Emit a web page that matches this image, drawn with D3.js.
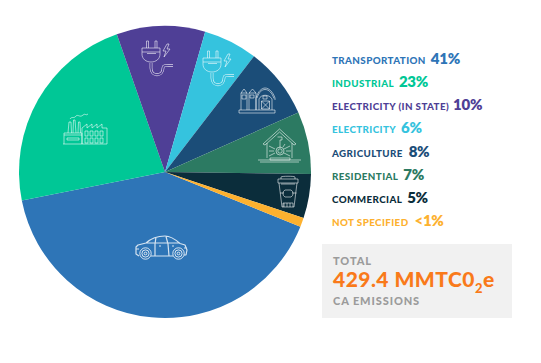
<!DOCTYPE html>
<html><head><meta charset="utf-8">
<style>html,body{margin:0;padding:0;background:#fff}svg{display:block}
text{font-family:Lato,"Open Sans",sans-serif}</style>
<script src="https://cdn.jsdelivr.net/npm/d3@7/dist/d3.min.js"></script></head>
<body><svg id="c" width="541" height="363"></svg>
<script>
const categories=["TRANSPORTATION","INDUSTRIAL","ELECTRICITY (IN STATE)","ELECTRICITY","AGRICULTURE","RESIDENTIAL","COMMERCIAL","NOT SPECIFIED"];
const values=[40.8,22.8,9.8,6.0,7.9,6.9,4.9,1.0];
const valueLabels=["41%","23%","10%","6%","8%","7%","5%","<1%"];
const colors=["#2e75b7","#00c796","#4f3f96","#35c3de","#1b4d78","#2c7a62","#0b2d3b","#fdb12f"];
const svg=d3.select("#c");
const cx=165,cy=172,R=146;
const startDeg=112;
const pie=d3.pie().sort(null).startAngle(startDeg*Math.PI/180).endAngle((startDeg+360)*Math.PI/180);
const arc=d3.arc().innerRadius(0).outerRadius(R);
svg.append("g").attr("transform",`translate(${cx},${cy})`).selectAll("path").data(pie(values)).join("path")
  .attr("d",arc).attr("fill",(d,i)=>colors[i]);

// line icons
const ic=svg.append("g").attr("fill","none").attr("stroke","#fff").attr("stroke-width",.7).attr("stroke-opacity",.8).attr("stroke-linejoin","round");
function plug(x,y,bg){
  const g=ic.append("g").attr("transform",`translate(${x},${y})`);
  const cable="M9 22V27C9 36 21 36 21 27C21 24 23 24.500 31 24.500";
  g.append("path").attr("d",cable).attr("stroke-width",2.8);
  g.append("path").attr("d",cable).attr("stroke",bg).attr("stroke-opacity",1).attr("stroke-width",1.6);
  g.append("path").attr("d","M4.500 7V0H6.500V7M13 7V0H15V7M0 7H18V13C18 18 14 21 9 21C4 21 0 18 0 13ZM0 11H18M5 12.500H14");
  g.append("path").attr("d","M25 3L21 10H24L22 16L28 8H25L27 3Z");
}
plug(142,41,colors[2]);plug(203,51,colors[3]);

// barn
ic.append("path").attr("transform","translate(239,88)").attr("d",
 "M0 25H36V22H0ZM2 22V5L5 1L8 5V22M2 5H8M3 7H7V11H3ZM10 22V5L13.500 1L17 5V22M10 5H17M11 7H15V10H11ZM17 22V10C19 3 23 0 26 0C30 0 34 4 36 10V12M18 10C20 4 23 1.500 26 1.500C30 1.500 33 5 35 10.500M20 22V11C22 6 30 6 33 11V22M22.500 13H30.500V21H22.500ZM22.500 13L30.500 21M30.500 13L22.500 21M24 8H28V11H24Z");

// house
ic.append("path").attr("transform","translate(258,129)").attr("d",
 "M5 15L21.500 0L38 15L36 16L21.500 3L7 16ZM9 14V29M34 14V29M0 31H43M2 33H41M12 31H32V29H12ZM19.500 8H24V11H22V19M18 22A4 4 0 1 0 26 22A4 4 0 1 0 18 22M19.800 22A2.200 2.200 0 1 0 24.200 22A2.200 2.200 0 1 0 19.800 22M11 17L17 20M11 22H16M11 27L17 24M32 17L26 20M33 22H28M32 27L26 24M27 15L25 18");

// bin
ic.append("path").attr("transform","translate(277,176)").attr("d",
 "M4 3V1C4 0 18 0 18 1V3M1 3H21V7H1ZM2 7L5 31H17L20 7M4 8H18M6 31V27H16V31M7 27V31M10 27V31M13 27V31M8 14H14A4 4 0 0 1 14 21H8A4 4 0 0 1 8 14ZM3 17H7M15 17H19.500");

// factory
ic.append("path").attr("transform","translate(63,113)").attr("d",
 "M0 31H44M1 31V20H19V31M1 22H19M4 25H16V27H4ZM5 20L6 9H8L8.500 20M10 20L10.500 7H12L13 20M15 20L15.500 9H17L17.500 20M7 6C9 3 11 6 13 3C15 1 17 5 20 2C22 0 23 3 25 1M19 31V15L24 11V15L29 11V15L34 11V15L39 11V15L44 15V31M22 18H25V23H22ZM27 18H30V23H27ZM32 18H35V23H32ZM37 18H40V23H37ZM22 25H25V30H22ZM27 25H30V30H27ZM32 25H35V30H32ZM37 25H40V30H37Z");

// car
ic.append("path").attr("transform","translate(135,236)").attr("stroke-width",1.2).attr("d",
 "M4 20L1 18V11L3 9L11 7C17 1.500 22 0 30 0C36 0 41 4 45 7.500L50 9L52 14L51 19H49M38 20H16M11 7H45M21 1L20 8V20M31 .5L33 8L34 20M24 10H26M37 10H39M1 13H4M49 12H52");
[[145.500,253.500],[178.500,253.500]].forEach(([x,y])=>{
  [5.700,3.600,1.400].forEach(r=>ic.append("circle").attr("cx",x).attr("cy",y).attr("r",r).attr("stroke-width",1));
});

// legend
const rowY=d3.scalePoint().domain(categories).range([64,226]);
const gaps=[5,5,4,5,6,5,5,6];
const lg=svg.append("g");
categories.forEach((c,i)=>{
  const t=lg.append("text").attr("x",332).attr("y",rowY(c)).attr("fill",colors[i]).attr("font-size",9.800).attr("font-weight",900).attr("letter-spacing",.4).text(c);
  const w=t.node().getComputedTextLength();
  lg.append("text").attr("x",332+w+gaps[i]).attr("y",rowY(c)).attr("fill",colors[i]).attr("font-family","Inter").attr("font-size",15).attr("font-weight",800).attr("letter-spacing",-.3).text(valueLabels[i]);
});

// total box
svg.append("rect").attr("x",322).attr("y",244).attr("width",190).attr("height",74).attr("fill","#f1f1f1");
const gray="#9b9b9b";
svg.append("text").attr("x",333).attr("y",265).attr("fill",gray).attr("font-size",11).attr("font-weight",900).attr("letter-spacing",.9).text("TOTAL");
const tt=svg.append("text").attr("x",333).attr("y",287).attr("fill","#f97a1a").attr("font-size",21).attr("font-weight",900).attr("letter-spacing",.45);
tt.append("tspan").text("429.4 MMTC0");
tt.append("tspan").attr("font-size",13).attr("dy",6).text("2");
tt.append("tspan").attr("dy",-6).text("e");
svg.append("text").attr("x",333).attr("y",305).attr("fill",gray).attr("font-size",11).attr("font-weight",900).attr("letter-spacing",.9).text("CA EMISSIONS");
</script></body></html>
